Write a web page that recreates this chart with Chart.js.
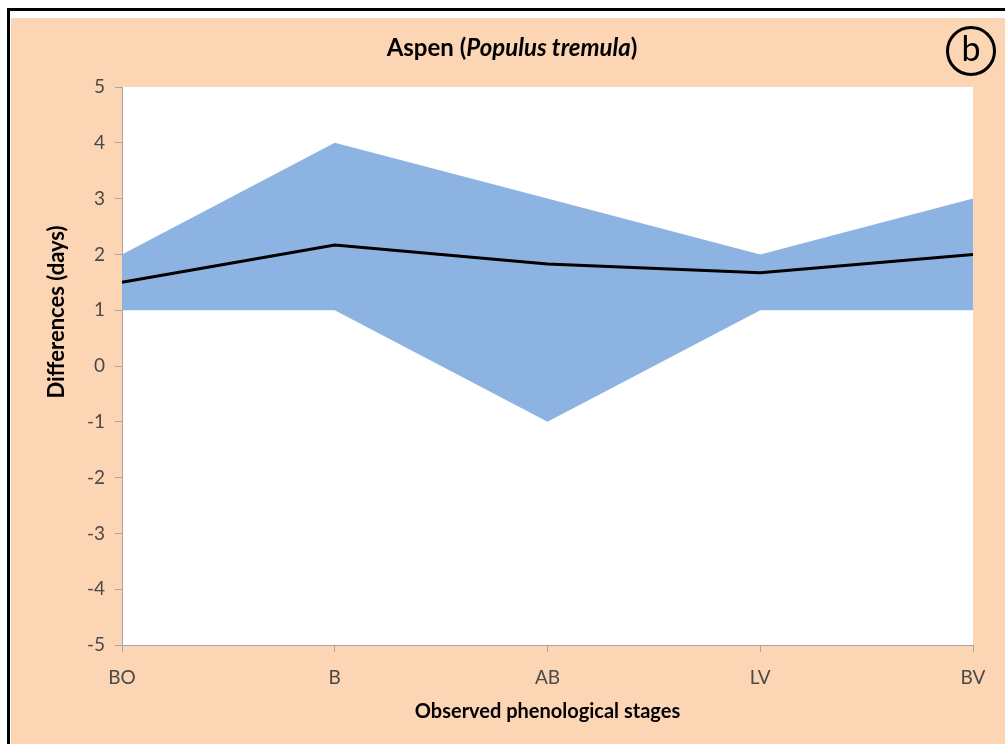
<!DOCTYPE html>
<html>
<head>
<meta charset="utf-8">
<script src="https://cdn.jsdelivr.net/npm/chart.js@4"></script>
<style>
  html, body { margin: 0; padding: 0; background: #fff; }
  #wrap { width: 1005px; height: 744px; position: relative; }
</style>
</head>
<body>
<div id="wrap"><canvas id="aspenChart" width="1005" height="744"></canvas></div>
<script>
// 観測フェノロジー段階
const stages = ['BO', 'B', 'AB', 'LV', 'BV'];
// 差の範囲（上限・下限）と平均
const upperDiff = [2, 4, 3, 2, 3];
const lowerDiff = [1, 1, -1, 1, 1];
const meanDiff = [1.5, 2.17, 1.83, 1.67, 2.0];
const yTicks = [-5, -4, -3, -2, -1, 0, 1, 2, 3, 4, 5];

const FONT = 'Lato, "Open Sans", sans-serif';
const PEACH = '#FCD5B5';
const BAND = '#8DB3E2';
const TICK_COLOR = '#4a4a4a';

// 背景・枠・タイトル・(b) マークを描くプラグイン
const framePlugin = {
    id: 'frame',
    beforeDraw(chart) {
        const ctx = chart.ctx;
        const area = chart.chartArea;
        ctx.save();
        ctx.fillStyle = '#ffffff';
        ctx.fillRect(0, 0, chart.width, chart.height);
        ctx.fillStyle = PEACH;
        ctx.fillRect(11, 18, chart.width - 11, chart.height - 18);
        // 外枠（上と左）
        ctx.strokeStyle = '#000';
        ctx.lineWidth = 3;
        ctx.beginPath();
        ctx.moveTo(8.5, chart.height);
        ctx.lineTo(8.5, 9.5);
        ctx.lineTo(chart.width, 9.5);
        ctx.stroke();
        // プロット領域
        ctx.fillStyle = '#ffffff';
        ctx.fillRect(area.left, area.top, area.right - area.left, area.bottom - area.top);
        ctx.restore();
    },
    afterDraw(chart) {
        const ctx = chart.ctx;
        ctx.save();
        // タイトル（一部イタリック）
        const parts = [
            { t: 'Aspen (', f: 'bold 24px ' + FONT },
            { t: 'Populus tremula', f: 'italic bold 24px ' + FONT },
            { t: ')', f: 'bold 24px ' + FONT }
        ];
        let total = 0;
        parts.forEach(p => { ctx.font = p.f; p.w = ctx.measureText(p.t).width; total += p.w; });
        let x = 512 - total / 2;
        ctx.fillStyle = '#000';
        ctx.textBaseline = 'middle';
        ctx.textAlign = 'left';
        parts.forEach(p => { ctx.font = p.f; ctx.fillText(p.t, x, 48); x += p.w; });

        // Y軸タイトル（回転）
        ctx.save();
        ctx.translate(57, 312);
        ctx.rotate(-Math.PI / 2);
        ctx.textAlign = 'center';
        ctx.font = 'bold 22px ' + FONT;
        ctx.fillText('Differences (days)', 0, 0);
        ctx.restore();

        // (b) マーク
        ctx.beginPath();
        ctx.arc(971, 51, 23.5, 0, Math.PI * 2);
        ctx.lineWidth = 3;
        ctx.strokeStyle = '#000';
        ctx.stroke();
        ctx.font = '34px ' + FONT;
        ctx.textAlign = 'center';
        ctx.fillText('b', 971, 50);
        ctx.restore();
    }
};

const ctx = document.getElementById('aspenChart').getContext('2d');
new Chart(ctx, {
    type: 'line',
    data: {
        labels: stages,
        datasets: [
            {
                label: 'mean',
                data: meanDiff,
                borderColor: '#000000',
                borderWidth: 3,
                pointRadius: 0,
                fill: false,
                tension: 0
            },
            {
                label: 'upper',
                data: upperDiff,
                borderWidth: 0,
                borderColor: BAND,
                backgroundColor: BAND,
                pointRadius: 0,
                fill: '+1',
                tension: 0
            },
            {
                label: 'lower',
                data: lowerDiff,
                borderWidth: 0,
                borderColor: BAND,
                backgroundColor: BAND,
                pointRadius: 0,
                fill: false,
                tension: 0
            }
        ]
    },
    plugins: [framePlugin],
    options: {
        responsive: false,
        animation: false,
        layout: { padding: { left: 0, top: 87, right: 32, bottom: 0 } },
        plugins: {
            legend: { display: false },
            tooltip: { enabled: false },
            title: { display: false }
        },
        scales: {
            x: {
                offset: false,
                afterFit: (scale) => { scale.height = 99; },
                grid: {
                    drawOnChartArea: false,
                    drawTicks: true,
                    tickLength: 7,
                    color: '#A6A6A6'
                },
                border: { color: '#A6A6A6', width: 1 },
                ticks: {
                    color: TICK_COLOR,
                    font: { family: FONT, size: 19 },
                    padding: 14,
                    maxRotation: 0
                },
                title: {
                    display: true,
                    text: 'Observed phenological stages',
                    color: '#000',
                    font: { family: FONT, size: 20, weight: 'bold' },
                    padding: { top: 20, bottom: 20 }
                }
            },
            y: {
                min: -5,
                max: 5,
                afterFit: (scale) => { scale.width = 122; },
                afterBuildTicks: (scale) => { scale.ticks = yTicks.map(v => ({ value: v })); },
                grid: {
                    drawOnChartArea: false,
                    drawTicks: true,
                    tickLength: 7,
                    color: '#A6A6A6'
                },
                border: { color: '#A6A6A6', width: 1 },
                ticks: {
                    color: TICK_COLOR,
                    font: { family: FONT, size: 19 },
                    padding: 10
                },
                title: { display: false }
            }
        }
    }
});
</script>
</body>
</html>
